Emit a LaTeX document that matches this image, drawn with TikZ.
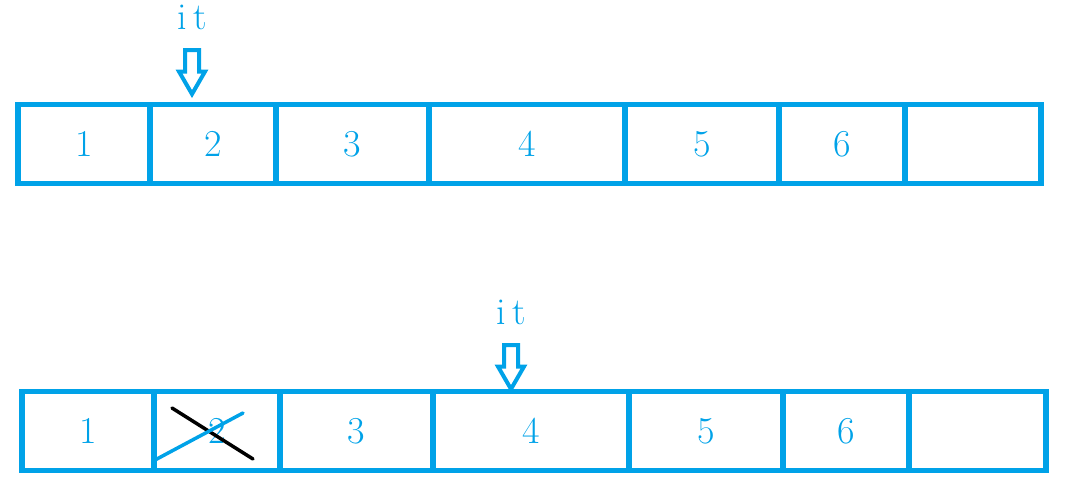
\documentclass[tikz,border=0pt]{standalone}
\usepackage{fontspec}
\usepackage{xcolor}
\usepackage{tikz}
\usetikzlibrary{positioning,shapes.arrows}

\definecolor{paintblue}{RGB}{0,162,232}

\begin{document}
\begin{tikzpicture}[x=1pt, y=-1pt, node distance=0pt,
		cell/.style={draw=paintblue, line width=5.5pt, rectangle, outer sep=0pt, inner sep=0pt,
			minimum height=79, text=paintblue, font=\fontsize{38}{40}\selectfont},
		pointer/.style={single arrow, draw=paintblue, line width=4pt, rotate=-90, inner sep=5pt,
			single arrow head extend=6pt, single arrow tip angle=60, minimum height=44, outer sep=0pt},
		itlabel/.style={text=paintblue, font=\fontsize{38}{40}\selectfont}]
			\useasboundingbox (0,0) rectangle (1082,493);

			% first row
			\node[cell, minimum width=132] (t1) at (84,144) {1};
			\node[cell, minimum width=126] (t2) [right=of t1] {2};
			\node[cell, minimum width=153] (t3) [right=of t2] {3};
			\node[cell, minimum width=196] (t4) [right=of t3] {4};
			\node[cell, minimum width=154] (t5) [right=of t4] {5};
			\node[cell, minimum width=126] (t6) [right=of t5] {6};
			\node[cell, minimum width=136] (t7) [right=of t6] {};

			\node[itlabel] (it1) at (192,17) {i\,t};
			\node[pointer] (p1) at (192,66) {};

			% second row, 2 erased
			\node[cell, minimum width=132] (b1) at (88,431) {1};
			\node[cell, minimum width=126] (b2) [right=of b1] {2};
			\node[cell, minimum width=153] (b3) [right=of b2] {3};
			\node[cell, minimum width=196] (b4) [right=of b3] {4};
			\node[cell, minimum width=154] (b5) [right=of b4] {5};
			\node[cell, minimum width=126] (b6) [right=of b5] {6};
			\node[cell, minimum width=137] (b7) [right=of b6] {};

			\node[itlabel] (it2) at (511,312) {i\,t};
			\node[pointer] (p2) at (511,361) {};

			\draw[black, line width=3.5pt, line cap=round] (172,408) -- (253,459);
			\draw[paintblue, line width=3.5pt, line cap=round] (155,460) -- (243,413);
		\end{tikzpicture}
\end{document}
